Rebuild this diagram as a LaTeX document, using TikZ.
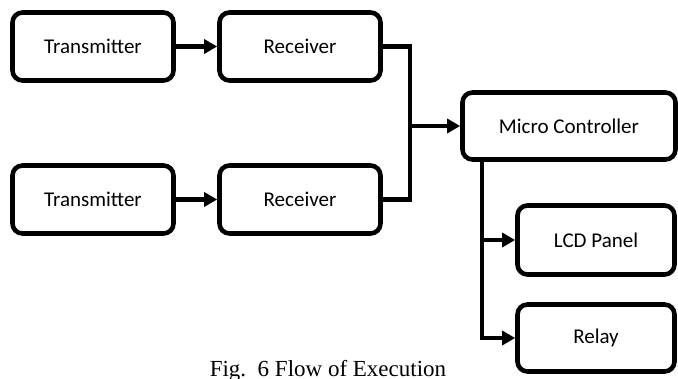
\documentclass[tikz,border=0pt]{standalone}
\usepackage{fontspec}
\setmainfont{Liberation Serif}
\newfontfamily\boxfont{Carlito}
\usetikzlibrary{arrows.meta}
\begin{document}
\begin{tikzpicture}[x=1pt,y=-1pt,
  blockbox/.style={draw, line width=4.6pt, rounded corners=10pt, inner sep=0pt,
    minimum width=161pt, minimum height=68pt, font=\boxfont\fontsize{21}{24}\selectfont},
  link/.style={line width=4.6pt},
  flow/.style={line width=4.6pt, -{Triangle[length=13pt,width=14pt]}}]
\useasboundingbox (0,0) rectangle (678,378);

\node[blockbox] (t1) at (93,46.5) {Transmitter};
\node[blockbox] (r1) at (300,46.5) {Receiver};
\node[blockbox] (t2) at (93,199.5) {Transmitter};
\node[blockbox] (r2) at (300,199.5) {Receiver};
\node[blockbox, minimum width=213pt, minimum height=67pt] (mc) at (569,126) {Micro Controller};
\node[blockbox, minimum width=157pt, minimum height=69pt] (lcd) at (596,240) {LCD Panel};
\node[blockbox, minimum width=157pt, minimum height=67pt] (relay) at (596,338) {Relay};

\coordinate (join) at (410,126);
\coordinate (split) at (482,0);

\draw[flow] (t1) -- (r1);
\draw[flow] (t2) -- (r2);
\draw[link] (r1.east) -| (join) |- (r2.east);
\draw[flow] (join) -- (mc.west);
\draw[flow] (mc.south -| split) |- (relay.west);
\draw[flow] (split |- lcd.west) -- (lcd.west);

\node[anchor=base, font=\fontsize{23}{26}\selectfont] (cap) at (328,376) {Fig.~~6 Flow of Execution};
\end{tikzpicture}
\end{document}
